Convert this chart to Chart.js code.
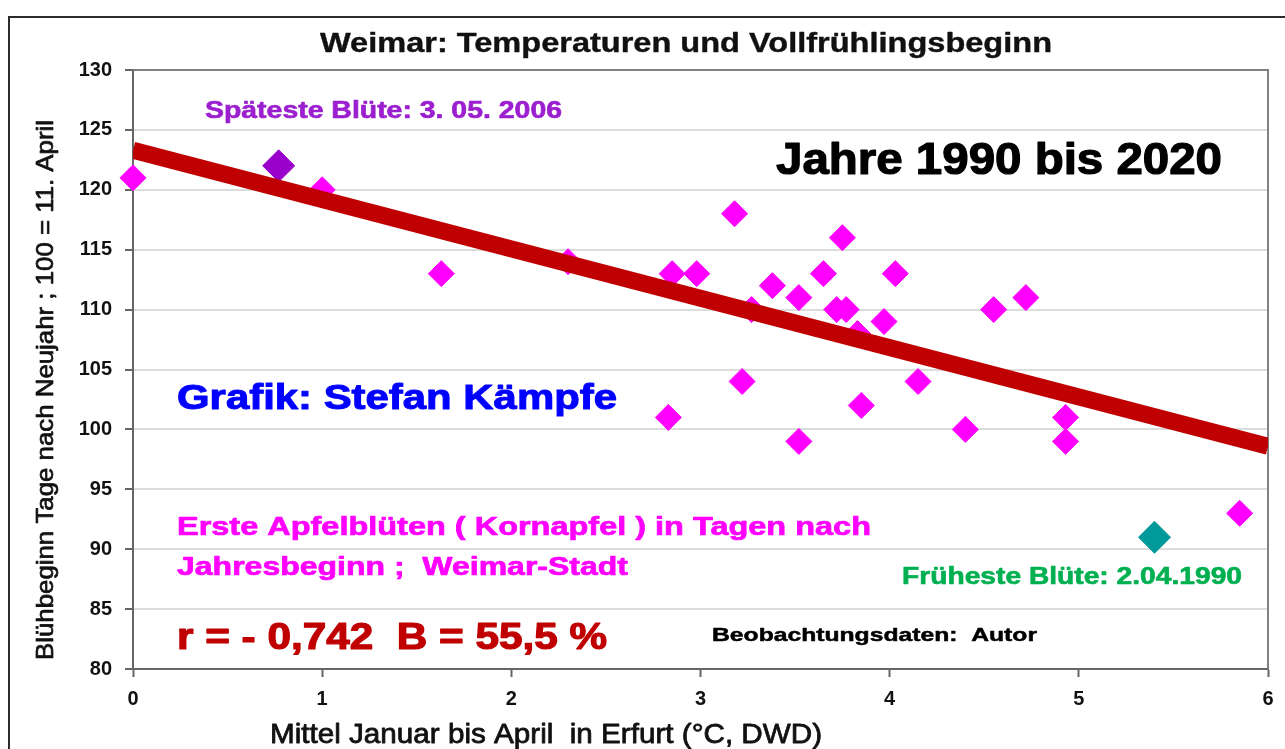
<!DOCTYPE html>
<html lang="de">
<head>
<meta charset="utf-8">
<title>Weimar: Temperaturen und Vollfrühlingsbeginn</title>
<script src="https://cdn.jsdelivr.net/npm/chart.js@4.4.1/dist/chart.umd.min.js"></script>
<style>
  html, body { margin: 0; padding: 0; background: #fff; }
  #wrap { width: 1285px; height: 749px; position: relative; }
</style>
</head>
<body>
<div id="wrap"><canvas id="weimarChart"></canvas></div>
<script>
// Mitteltemperatur Jan-Apr Erfurt (°C) und Blühbeginn (Tage nach Neujahr)
const tempJanApr = [0.00, 1.00, 1.63, 2.30, 2.85, 2.98, 3.18, 3.27, 3.38, 3.52, 3.65, 3.72, 3.77, 3.75,
                    3.83, 3.97, 4.03, 4.15, 3.85, 3.22, 2.83, 3.52, 4.40, 4.55, 4.72, 4.93, 4.93, 5.85];
const bluehTage  = [121, 120, 113, 114, 113, 113, 118, 110, 112, 111, 113, 110, 110, 116,
                    108, 109, 113, 104, 102, 104, 101, 99, 100, 110, 111, 101, 99, 93];

// Extremjahre
const spaetX = [0.77];  const spaetY = [122];   // 2006
const fruehX = [5.40];  const fruehY = [91];    // 1990

// Regressionsgerade (Endpunkte bei 0 und 6 °C)
const trendX = [0, 6];
const trendY = [123.3, 98.6];

const xTicks = [0, 1, 2, 3, 4, 5, 6];
const yMin = 80, yMax = 130, yStep = 5;

const FONT = '"Liberation Sans", Arial, Helvetica, sans-serif';

function toPoints(xs, ys) {
    return xs.map((x, i) => ({ x: x, y: ys[i] }));
}

// Text zeichnen, horizontal auf die Breite der Vorlage bringen, etwas kräftiger nachziehen
function fitText(ctx, txt, x, y, size, weight, color, width, thick) {
    ctx.save();
    ctx.font = `${weight} ${size}px ${FONT}`;
    const m = ctx.measureText(txt).width;
    ctx.translate(x, y);
    ctx.scale(width / m, 1);
    ctx.fillStyle = color;
    ctx.textAlign = 'left';
    ctx.textBaseline = 'alphabetic';
    ctx.fillText(txt, 0, 0);
    if (thick) {
        ctx.strokeStyle = color;
        ctx.lineWidth = thick;
        ctx.lineJoin = 'round';
        ctx.strokeText(txt, 0, 0);
    }
    ctx.restore();
}

const backgroundPlugin = {
    id: 'background',
    beforeDraw(chart) {
        const ctx = chart.ctx;
        ctx.save();
        ctx.fillStyle = '#ffffff';
        ctx.fillRect(0, 0, chart.width, chart.height);
        // äußerer Rahmen (läuft rechts und unten aus dem Bild)
        ctx.strokeStyle = '#2b2b2b';
        ctx.lineWidth = 2;
        ctx.beginPath();
        ctx.moveTo(9, chart.height);
        ctx.lineTo(9, 17);
        ctx.lineTo(chart.width, 17);
        ctx.stroke();
        ctx.restore();
    },
    beforeDatasetsDraw(chart) {
        const { ctx, chartArea: a } = chart;
        ctx.save();
        ctx.strokeStyle = '#808080';
        ctx.lineWidth = 2;
        ctx.beginPath();
        ctx.moveTo(a.left, a.top);
        ctx.lineTo(a.right, a.top);
        ctx.lineTo(a.right, a.bottom);
        ctx.stroke();
        ctx.restore();
    }
};

const textPlugin = {
    id: 'texte',
    afterDraw(chart) {
        const ctx = chart.ctx;
        fitText(ctx, 'Weimar: Temperaturen und Vollfrühlingsbeginn', 320, 52, 28, 'bold', '#111', 732, 0.4);
        fitText(ctx, 'Späteste Blüte: 3. 05. 2006', 205, 118, 23, 'bold', '#9b1fcf', 357, 0.6);
        fitText(ctx, 'Jahre 1990 bis 2020', 776, 174, 44, 'bold', '#000', 446, 1.2);
        fitText(ctx, 'Grafik: Stefan Kämpfe', 177, 409, 35, 'bold', '#0000ff', 440, 1);
        fitText(ctx, 'Erste Apfelblüten ( Kornapfel ) in Tagen nach', 177, 535, 26, 'bold', '#ff00ff', 694, 0.7);
        fitText(ctx, 'Jahresbeginn ;  Weimar-Stadt', 177, 575, 26, 'bold', '#ff00ff', 451, 0.7);
        fitText(ctx, 'r = - 0,742  B = 55,5 %', 177, 649, 37, 'bold', '#c00000', 430, 1.2);
        fitText(ctx, 'Beobachtungsdaten:  Autor', 712, 641, 19, 'bold', '#000', 325, 0.5);
        fitText(ctx, 'Früheste Blüte: 2.04.1990', 902, 584, 23, 'bold', '#00b050', 340, 0.6);
        fitText(ctx, 'Mittel Januar bis April  in Erfurt (°C, DWD)', 270, 743, 28, 'normal', '#111', 552, 0.8);

        // y-Achsentitel, gedreht
        ctx.save();
        ctx.translate(53, 660);
        ctx.rotate(-Math.PI / 2);
        fitText(ctx, 'Blühbeginn Tage nach Neujahr ; 100 = 11. April', 0, 0, 24, 'normal', '#111', 540, 0.7);
        ctx.restore();
    }
};

const ctx = document.getElementById('weimarChart').getContext('2d');
new Chart(ctx, {
    type: 'scatter',
    data: {
        datasets: [
            {
                label: 'Trend',
                type: 'line',
                data: toPoints(trendX, trendY),
                borderColor: '#c00000',
                borderWidth: 17,
                borderCapStyle: 'butt',
                pointRadius: 0,
                fill: false,
                clip: 0,
                order: 0
            },
            {
                label: 'Späteste Blüte 2006',
                data: toPoints(spaetX, spaetY),
                pointStyle: 'rectRot',
                pointRadius: 16,
                backgroundColor: '#9900cc',
                borderColor: '#9900cc',
                clip: false,
                order: 1
            },
            {
                label: 'Früheste Blüte 1990',
                data: toPoints(fruehX, fruehY),
                pointStyle: 'rectRot',
                pointRadius: 16,
                backgroundColor: '#009a9a',
                borderColor: '#009a9a',
                clip: false,
                order: 1
            },
            {
                label: 'Blühbeginn',
                data: toPoints(tempJanApr, bluehTage),
                pointStyle: 'rectRot',
                pointRadius: 13,
                backgroundColor: '#ff00ff',
                borderColor: '#ff00ff',
                clip: false,
                order: 2
            }
        ]
    },
    options: {
        responsive: true,
        maintainAspectRatio: false,
        animation: false,
        events: [],
        layout: { padding: { top: 70, right: 17, left: 0, bottom: 0 } },
        plugins: {
            legend: { display: false },
            title: { display: false },
            tooltip: { enabled: false }
        },
        scales: {
            x: {
                type: 'linear',
                min: xTicks[0],
                max: xTicks[xTicks.length - 1],
                afterBuildTicks: s => { s.ticks = xTicks.map(v => ({ value: v })); },
                afterFit: s => { s.height = 80; },
                ticks: {
                    color: '#111',
                    padding: 10,
                    font: { family: FONT, size: 20, weight: 'bold' }
                },
                grid: { drawOnChartArea: false, tickColor: '#666', tickLength: 8, tickWidth: 2 },
                border: { color: '#666', width: 2 }
            },
            y: {
                min: yMin,
                max: yMax,
                afterFit: s => { s.width = 133; },
                ticks: {
                    stepSize: yStep,
                    color: '#111',
                    padding: 13,
                    font: { family: FONT, size: 20, weight: 'bold' }
                },
                grid: { color: '#dcdcdc', lineWidth: 2, tickColor: '#666', tickLength: 8, tickWidth: 2 },
                border: { color: '#666', width: 2 }
            }
        }
    },
    plugins: [backgroundPlugin, textPlugin]
});
</script>
</body>
</html>
